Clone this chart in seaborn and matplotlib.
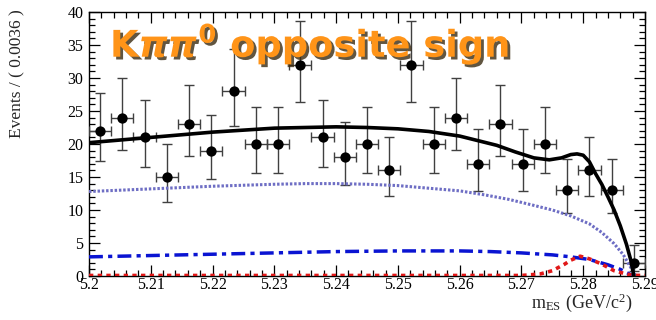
import pandas as pd
import seaborn as sns
import matplotlib
matplotlib.use("Agg")
import matplotlib.pyplot as plt
import matplotlib.patheffects as pe
from matplotlib.ticker import MultipleLocator, FixedLocator, FixedFormatter

# binned data (bin width 0.0036)
bin_centers = [5.2018, 5.2054, 5.2090, 5.2126, 5.2162, 5.2198, 5.2234, 5.2270, 5.2306,
               5.2342, 5.2378, 5.2414, 5.2450, 5.2486, 5.2522, 5.2558, 5.2594, 5.2630,
               5.2666, 5.2702, 5.2738, 5.2774, 5.2810, 5.2846, 5.2882]
counts = [22, 24, 21, 15, 23, 19, 28, 20, 20, 32, 21, 18, 20, 16, 32, 20, 24, 17, 23,
          17, 20, 13, 16, 13, 2]
err_low = [17.4, 19.1, 16.5, 11.2, 18.2, 14.7, 22.7, 15.6, 15.6, 26.4, 16.5, 13.8, 15.6,
           12.1, 26.4, 15.6, 19.1, 12.9, 18.2, 12.9, 15.6, 9.5, 12.1, 9.5, 0.7]
err_high = [27.8, 30.0, 26.7, 20.0, 28.9, 24.4, 34.4, 25.6, 25.6, 38.7, 26.7, 23.3, 25.6,
            21.1, 38.7, 25.6, 30.0, 22.2, 28.9, 22.2, 25.6, 17.7, 21.1, 17.7, 4.7]
half_bin = 0.0018

# fit curves
total_x = [5.200, 5.205, 5.210, 5.215, 5.220, 5.225, 5.230, 5.235, 5.240, 5.245, 5.250,
           5.255, 5.260, 5.263, 5.266, 5.269, 5.272, 5.2745, 5.2765, 5.278, 5.279, 5.280,
           5.281, 5.282, 5.283, 5.284, 5.285, 5.286, 5.287, 5.2877, 5.2882]
total_y = [20.2, 20.6, 21.0, 21.4, 21.8, 22.1, 22.4, 22.5, 22.6, 22.5, 22.3, 21.9, 21.2,
           20.5, 19.8, 18.8, 17.9, 17.6, 17.9, 18.4, 18.5, 18.3, 17.3, 15.5, 13.9, 12.0,
           10.0, 7.6, 4.8, 2.4, 0.0]

argus_x = [5.200, 5.210, 5.220, 5.230, 5.235, 5.240, 5.245, 5.250, 5.255, 5.260, 5.264,
           5.268, 5.272, 5.275, 5.278, 5.281, 5.283, 5.285, 5.2865, 5.2875, 5.2885]
argus_y = [12.8, 13.2, 13.6, 13.9, 14.0, 14.0, 13.9, 13.7, 13.3, 12.9, 12.3, 11.6, 10.7,
           10.0, 9.1, 7.9, 6.6, 4.9, 3.2, 1.6, 0.0]

bbkg_x = [5.200, 5.210, 5.220, 5.230, 5.240, 5.250, 5.260, 5.265, 5.270, 5.275, 5.278,
          5.281, 5.284, 5.286, 5.2875, 5.288]
bbkg_y = [2.9, 3.1, 3.3, 3.5, 3.7, 3.8, 3.8, 3.7, 3.5, 3.2, 2.9, 2.5, 1.7, 1.0, 0.3, 0.0]

sig_x = [5.200, 5.270, 5.273, 5.275, 5.277, 5.278, 5.2795, 5.281, 5.283, 5.285, 5.287,
         5.288, 5.290]
sig_y = [0.08, 0.08, 0.3, 0.8, 1.8, 2.4, 3.0, 2.6, 1.8, 0.8, 0.3, 0.1, 0.08]

x_ticks = [5.20, 5.21, 5.22, 5.23, 5.24, 5.25, 5.26, 5.27, 5.28, 5.29]
x_ticklabels = ["5.2", "5.21", "5.22", "5.23", "5.24", "5.25", "5.26", "5.27", "5.28", "5.29"]
y_ticks = [0, 5, 10, 15, 20, 25, 30, 35, 40]

sns.set_theme(style="ticks")
plt.rcParams["font.family"] = ["Liberation Serif", "DejaVu Serif"]
plt.rcParams["mathtext.fontset"] = "stix"
plt.rcParams["mathtext.it"] = "DejaVu Sans:italic:bold"
plt.rcParams["mathtext.rm"] = "DejaVu Sans:bold"
plt.rcParams["mathtext.bf"] = "DejaVu Sans:bold"

fig = plt.figure(figsize=(6.56, 3.2), dpi=100)
ax = fig.add_axes([89 / 656, 44 / 320, 556 / 656, 264 / 320])

# data points
ax.errorbar(bin_centers, counts,
            yerr=[[c - l for c, l in zip(counts, err_low)], [h - c for c, h in zip(counts, err_high)]],
            xerr=half_bin, fmt="none", ecolor="#404040", elinewidth=1.0, capsize=3.5,
            capthick=1.0, zorder=3)
pts = pd.DataFrame({"x": bin_centers, "y": counts})
sns.scatterplot(data=pts, x="x", y="y", ax=ax, color="black", s=55, edgecolor="black",
                linewidth=0, zorder=4)

# curves
sns.lineplot(data=pd.DataFrame({"x": argus_x, "y": argus_y}), x="x", y="y", ax=ax,
             color="#6e6ec4", linewidth=2.2, linestyle=(0, (0.8, 0.6)), zorder=5)
sns.lineplot(data=pd.DataFrame({"x": bbkg_x, "y": bbkg_y}), x="x", y="y", ax=ax,
             color="#0a14d2", linewidth=2.5, linestyle=(0, (4, 1.5, 1.2, 1.5)), zorder=5)
sns.lineplot(data=pd.DataFrame({"x": sig_x, "y": sig_y}), x="x", y="y", ax=ax,
             color="#e01818", linewidth=2.6, linestyle=(0, (1.2, 1.2)), zorder=5)
sns.lineplot(data=pd.DataFrame({"x": total_x, "y": total_y}), x="x", y="y", ax=ax,
             color="black", linewidth=2.6, zorder=6)

ax.set_xlim(5.2, 5.29)
ax.set_ylim(0, 40)
ax.xaxis.set_major_locator(FixedLocator(x_ticks))
ax.xaxis.set_major_formatter(FixedFormatter(x_ticklabels))
ax.xaxis.set_minor_locator(MultipleLocator(0.002))
ax.yaxis.set_major_locator(FixedLocator(y_ticks))
ax.yaxis.set_minor_locator(MultipleLocator(1))
ax.tick_params(which="both", direction="in", top=True, right=True, colors="black",
               labelsize=11.5, width=0.9)
ax.tick_params(which="major", length=8)
ax.tick_params(which="minor", length=4.5)
ax.tick_params(axis="x", pad=1)
ax.tick_params(axis="y", pad=4)
for s in ax.spines.values():
    s.set_color("black")
    s.set_linewidth(1.0)

ax.set_ylabel("Events / ( 0.0036 )", fontsize=12.5, loc="top")
ax.yaxis.set_label_coords(-0.115, 1.01)
ax.set_xlabel(r"m$_{\mathregular{ES}}$ (GeV/c$^{\mathregular{2}}$)", fontsize=13, loc="right")
ax.xaxis.set_label_coords(0.978, -0.06)

title = fig.text(110 / 656, (320 - 57) / 320, r"K$\pi\pi^{0}$ opposite sign",
                 fontsize=26.5, color="#ff9418", fontweight="bold", family="DejaVu Sans",
                 va="baseline", ha="left", zorder=10)
title.set_math_fontfamily("custom")
title.set_path_effects([pe.withSimplePatchShadow(offset=(2, -2), shadow_rgbFace="#3a2a10",
                                                 alpha=0.8)])

fig.savefig("out.png", dpi=100)
